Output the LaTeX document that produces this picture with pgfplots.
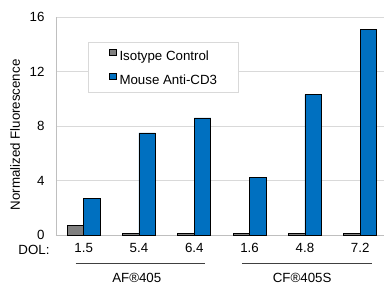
\documentclass[border=0pt]{standalone}
\usepackage{fontspec}
\setmainfont{Liberation Sans}
\usepackage{pgfplots}
\pgfplotsset{compat=1.18}
\definecolor{barblue}{HTML}{0070C0}
\definecolor{bargray}{HTML}{808080}
\definecolor{gridc}{HTML}{D9D9D9}
\definecolor{axc}{HTML}{BFBFBF}
\begin{document}
\begin{tikzpicture}[font=\fontsize{13.3bp}{16bp}\selectfont]
\begin{axis}[
  at={(0,0)}, anchor=south west,
  scale only axis, width=328bp, height=218bp,
  ybar=0pt, bar width=16.5bp,
  xmin=-0.5, xmax=5.43, ymin=0, ymax=16,
  ytick={0,4,8,12,16},
  xtick=data, xticklabels={1.5,5.4,6.4,1.6,4.8,7.2},
  major tick length=0pt,
  ymajorgrids, grid style={gridc, line width=0.8bp},
  axis x line*=bottom, axis y line*=left,
  axis line style={-, draw=axc, line width=0.8bp},
  /pgf/number format/assume math mode=true,
  tick label style={font=\fontsize{13.3bp}{16bp}\selectfont},
  xticklabel style={yshift=-5bp},
  yticklabel style={xshift=-8bp},
  ylabel={Normalized Fluorescence},
  ylabel style={at={(axis description cs:-0.125,0.459)}, anchor=center},
  clip=false,
  legend cell align=left,
  legend style={at={(axis description cs:0.0976,0.885)}, anchor=north west,
    draw=gridc, fill=white, line width=0.8bp, inner xsep=21bp, inner ysep=6.5bp,
    row sep=11bp, column sep=3bp, nodes={inner sep=0pt},
    font=\fontsize{13.3bp}{16bp}\selectfont},
  legend image code/.code={\draw[#1, line width=0.6bp] (0bp,0.5bp) rectangle (6.5bp,7bp);},
]
\addplot[fill=bargray, draw=black, line width=0.6bp] coordinates {(0,0.7) (1,0.1) (2,0.1) (3,0.1) (4,0.1) (5,0.1)};
\addplot[fill=barblue, draw=black, line width=0.6bp] coordinates {(0,2.7) (1,7.5) (2,8.6) (3,4.2) (4,10.3) (5,15.1)};
\legend{Isotype Control, Mouse Anti-CD3}
\node[anchor=east] at (axis description cs:-0.009,-0.0688) {DOL:};
\draw[black!75, line width=0.8bp] (axis cs:-0.145,-2.06) -- (axis cs:2.19,-2.06);
\draw[black!75, line width=0.8bp] (axis cs:2.86,-2.06) -- (axis cs:5.22,-2.06);
\node at (axis cs:0.96,-3.16) {AF®405};
\node at (axis cs:3.95,-3.16) {CF®405S};
\end{axis}
\pgfresetboundingbox
\path[use as bounding box] (-56bp,-49bp) rectangle (328bp,235bp);
\end{tikzpicture}
\end{document}
